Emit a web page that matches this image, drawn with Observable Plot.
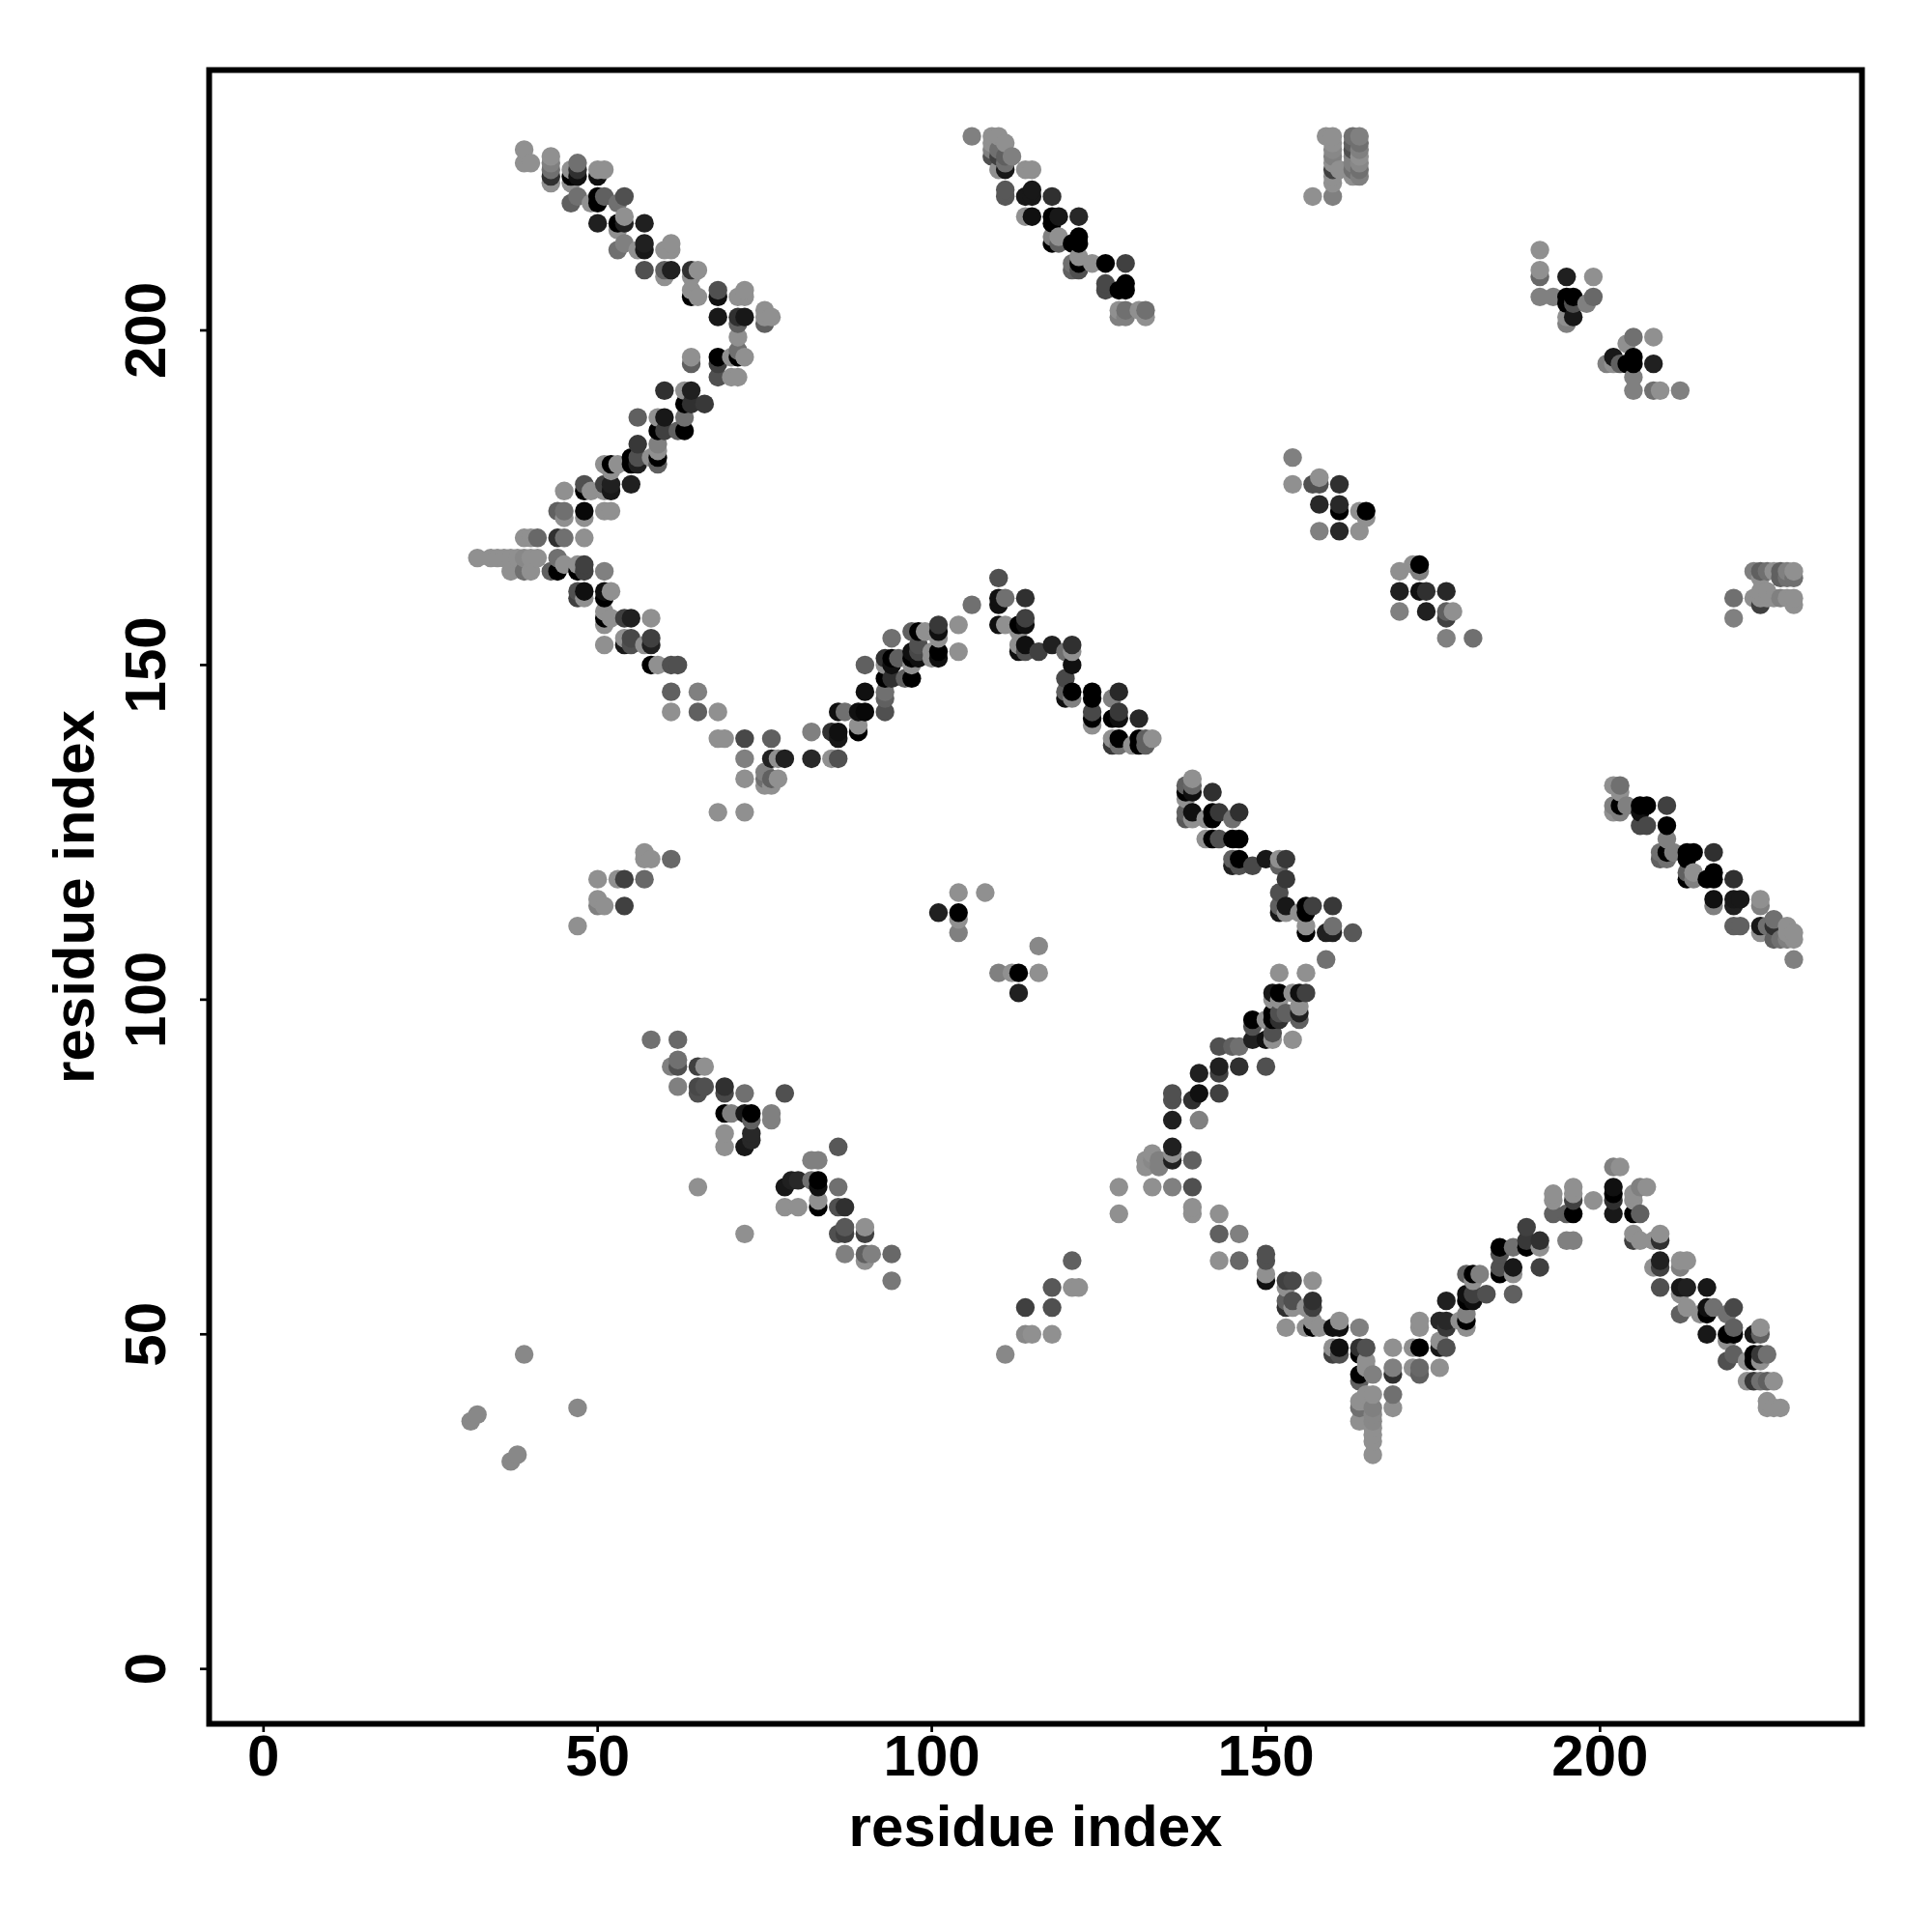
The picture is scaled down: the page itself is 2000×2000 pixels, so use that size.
<!DOCTYPE html>
<html><head><meta charset="utf-8">
<script src="https://cdn.jsdelivr.net/npm/d3@7"></script>
<script src="https://cdn.jsdelivr.net/npm/@observablehq/plot@0.6"></script>
<style>html,body{margin:0;padding:0;background:#fff}svg{display:block}</style>
</head><body><div id="chart"></div>
<script>
// each contact: [residue i, residue j, shade] (shade 0 = black ... 9 = lightest grey)
const armUpperLeft = [[39,227,9],[39,225,9],[40,225,9],[43,226,9],[43,224,7],[43,223,3],[43,222,9],[43,225,8],[46,224,9],[46,223,0],[46,222,9],[47,225,7],[47,224,3],[47,223,1],[50,224,9],[50,223,1],[51,224,9],[46,219,6],[47,220,7],[49,219,9],[50,220,0],[50,219,0],[51,220,6],[53,219,7],[54,220,5],[50,216,2],[53,215,9],[53,216,0],[54,216,2],[54,217,9],[57,216,2],[53,212,7],[54,213,8],[56,212,9],[57,213,2],[57,212,1.5],[60,212,9],[61,213,9],[61,212,9],[57,209,5],[60,209,6],[60,208,9],[61,209,2],[64,209,3],[65,209,9],[64,208,9],[64,206,9],[64,205,0],[65,205,9],[68,206,5],[68,205,1],[71,205,9],[72,206,9],[72,205,9],[68,202,1.5],[71,202,3],[72,202,1.5],[71,201,6],[75,203,9],[75,202,9],[75,201,6],[76,202,9],[71,199,9]];
const armRising = [[71,197,7],[72,196,9],[70,196,9],[71,196,0],[68,196,0],[68,195,4],[68,193,5],[70,193,9],[71,193,9],[64,196,9],[64,195,6],[60,191,3],[63,191,9],[64,191,2],[63,189,0],[64,189,3],[66,189,3.5],[56,187,6],[59,187,9],[60,187,1.5],[63,187,7],[59,185,0],[60,185,4],[62,185,6],[63,185,0],[56,183,3.5],[59,183,8],[59,182,9],[59,181,0],[59,180,6],[55,181,0],[55,180,0],[56,181,5],[56,180,2],[58,181,9],[51,180,9],[52,180,0],[53,180,9],[52,179,9],[55,177,2],[52,177,2],[52,176,1.5],[51,177,4],[51,176,9],[45,176,9],[48,177,5],[48,176,0],[49,176,9],[44,173,6],[45,173,7],[45,172,9],[48,173,0.5],[48,172,9],[51,173,9],[52,173,9],[39,169,9],[40,169,9],[41,169,6.5],[44,169,3],[45,169,7],[48,169,9]];
const armFalling = [[32,166,9],[34,166,9],[35,166,9],[36,166,9],[37,166,9],[38,166,9],[39,166,8.5],[40,166,9],[41,166,9],[37,164,9],[39,164,7],[40,164,9],[44,166,7],[45,165,9],[43,164,6],[44,164,0],[47,165,9],[48,165,4],[47,164,0],[48,164,4],[51,164,8],[47,161,5],[47,160,4],[48,161,1],[48,160,9],[51,161,1],[51,160,0],[52,161,9],[51,158,9],[52,157,9],[51,157,0],[51,156,9],[54,157,4],[55,157,2],[58,157,9],[51,153,9],[54,154,9],[54,153,1.5],[55,154,4.5],[55,153,5],[57,153,9],[58,154,4],[58,153,2],[58,150,0],[59,150,9],[61,150,5],[62,150,5],[61,146,6],[65,146,8],[61,143,9],[65,143,6],[68,143,9],[68,139,9],[69,139,9],[72,139,4.5],[76,139,6],[72,136,8],[76,136,2],[77,136,9],[78,136,2],[72,133,9],[75,134,8],[75,133,7],[75,132,9],[76,133,6],[76,132,9],[77,133,9],[68,128,9],[72,128,9]];
const patchLeft = [[57,122,9],[57,121,9],[58,121,9],[61,121,6.5],[47,111,9],[50,118,9],[50,115,9],[50,114,8],[51,114,9],[53,118,9],[54,118,4],[54,114,4],[57,118,6.5]];
const patchCentre = [[104,116,9],[108,116,9],[101,113,2],[104,113,0],[104,112,9],[104,110,8],[110,104,8],[112,104,9],[113,104,0],[113,101,2],[116,108,8.5],[116,104,9]];
const stripLowerLeft = [[58,94,7],[62,94,6.5],[62,91,7],[61,90,8],[62,90,5],[65,90,4],[66,90,9],[62,87,8],[65,87,4.5],[65,86,5],[66,87,5],[69,87,3],[69,86,4.5],[72,86,7],[78,86,5],[69,83,0],[70,83,8],[72,83,1.5],[73,83,0],[73,82,6],[76,83,8],[76,82,8],[69,80,9],[69,78,9],[73,80,2.5],[73,79,2.5],[72,78,1.5],[86,78,5.5],[82,76,8],[83,76,8],[78,72,1.5],[79,73,2],[80,73,2.5],[82,73,7],[83,73,0],[83,72,1],[86,72,7],[78,69,9],[80,69,9],[83,70,9],[83,69,0],[86,69,5],[87,69,3],[86,65,5],[87,66,5.5],[87,65,4],[90,66,9],[90,65,4],[87,62,8],[90,62,6],[91,62,8],[90,61,9],[94,62,6.5],[94,58,7.5],[65,72,9],[72,65,9]];
const isolatedLow = [[31,37,8.5],[32,38,8.5],[39,47,8.5],[47,39,8.5],[37,31,8.5],[38,32,8.5]];
const patchLowerMid = [[111,47,8.5],[114,54,4],[114,50,8.5],[115,50,9],[118,50,9],[118,54,5],[118,57,5.5],[121,61,6],[121,57,9],[122,57,9],[128,72,9],[128,68,9]];
const bumpUpper = [[82,140,8],[85,140,3],[86,140,1],[86,139,1.5],[82,136,2.5],[85,136,9],[86,136,5],[86,143,1],[87,143,7],[89,143,1],[90,143,0.5],[89,141,9],[89,140,0],[90,146,1],[90,150,6],[93,143,5],[93,145,6],[93,146,7],[93,148,0],[94,154,7],[93,151,3],[93,150,9],[94,151,0],[94,150,1],[95,151,6],[94,148,3],[96,148,6],[97,148,0],[97,150,9],[97,151,0],[97,152,1],[98,152,4.5],[98,153,5],[98,151,1],[97,155,6],[98,155,0],[99,155,9],[100,152,9],[100,151,9],[101,152,0],[101,151,1],[101,154,9],[101,155,1],[101,156,3.5],[104,156,9],[104,152,9],[106,159,7],[110,163,5],[110,160,1],[110,159,1],[111,160,7],[114,160,3],[110,156,1],[111,156,9],[113,156,0],[114,157,4],[114,156,1],[113,155,9],[113,153,9],[113,152,1],[114,153,1],[114,152,5],[116,152,4],[118,153,2],[120,152,7],[121,153,3],[121,152,9],[121,150,1],[120,148,4.5],[120,146,6],[120,145,1],[121,146,0],[121,145,8],[124,146,0],[124,145,0],[124,143,4.5],[124,142,0],[124,141,9],[127,145,8],[128,146,2.5],[128,143,3.5],[127,142,0],[128,142,1],[131,142,2.5],[127,139,9],[127,138,3.5],[128,139,0],[128,138,7],[130,138,9],[131,139,0],[131,138,0],[132,139,6],[132,138,6],[133,139,9]];
const diagMiddle = [[139,133,9],[138,132,6],[138,131,0],[139,131,1],[139,132,6.5],[138,130,9],[142,131,3],[138,128,6],[138,127,5.5],[139,128,1],[139,127,9],[142,128,0],[142,127,0],[143,128,3.5],[141,127,9],[145,127,7],[146,128,3],[141,124,9],[142,124,0],[143,124,5],[145,124,0],[146,124,0],[145,121,6],[145,120,2],[146,121,0],[146,120,5],[148,120,4.5],[150,121,1.5],[152,121,9],[152,120,6],[153,121,3.5],[153,118,3.5],[152,116,5],[152,114,6],[152,113,1.5],[153,114,1.5],[153,113,9],[155,113,9],[156,114,0],[156,113,0],[157,114,4],[160,114,3.5],[156,111,9],[156,110,0],[159,110,2],[160,110,2],[160,111,7],[163,110,5.5],[159,106,7]];
const armReturn = [[152,104,9],[156,104,9],[151,101,1.5],[152,101,0],[154,101,9],[155,101,1],[156,101,4],[151,100,9],[152,100,9],[155,99,9],[155,98,2],[155,97,6],[151,98,0],[151,97,0],[152,98,5],[152,97,3],[153,98,6],[150,97,9],[148,97,0],[148,96,5],[154,94,9],[151,95,5],[151,94,9],[150,94,1],[148,94,2],[145,93,6],[143,93,5],[146,93,7],[146,90,3],[143,90,2],[150,90,5],[143,89,4],[140,89,2],[140,86,1],[143,86,4],[136,86,5],[136,85,5],[139,85,3],[136,82,2],[140,82,8]];
const valleyLower = [[136,78,2],[136,77,9],[136,76,2],[139,76,6],[133,77,9],[132,76,9],[132,75,9],[133,76,8.5],[134,76,8],[134,75,8],[133,72,9],[136,72,8],[139,72,5],[139,69,9],[139,68,9],[143,68,9],[143,65,6],[146,65,8],[143,61,9],[146,61,6.5],[150,62,5],[150,61,5],[150,59,9],[150,58,1],[153,58,4],[154,58,4.5],[157,58,9],[153,57,9],[153,55,6],[153,54,3],[154,55,5],[154,54,9],[156,54,9],[157,55,3],[157,54,4],[153,51,9],[156,51,9],[157,51,0],[158,51,9],[157,52,9],[160,51,1],[161,51,1],[161,52,9],[164,51,8],[160,48,9],[160,47,4],[161,48,1],[161,47,5],[164,48,3],[165,48,5],[164,47,0],[165,46,9],[164,44,0],[165,45,9],[166,44,8],[164,43,6],[169,48,9],[169,45,8],[169,44,3],[169,41,7],[169,39,9],[165,41,9],[166,41,9],[164,40,9],[164,39,7],[165,40,9],[166,39,8],[164,37,9],[166,38,8.5],[166,37,8.5],[166,36,9],[166,35,9],[166,34,9],[166,32,9]];
const peakLower = [[172,48,9],[173,48,0],[172,45,9],[173,45,6.5],[173,44,6],[176,45,9],[173,52,9],[173,51,9],[176,52,2.5],[177,52,2.5],[177,51,3.5],[176,49,9],[176,48,1.5],[177,48,5],[177,55,2],[180,56,1],[180,55,0],[181,56,4],[181,55,1],[180,53,8],[180,52,0],[180,51,9],[179,52,9],[180,59,6],[181,59,0],[182,59,8],[181,58,9],[183,56,5],[185,63,0],[185,62,5],[185,60,5],[185,59,0],[187,63,7],[187,60,1.5],[187,59,9],[187,56,6],[189,66,4],[189,64,3.5],[189,63,0],[191,64,3],[191,63,9],[191,60,4],[193,71,9],[193,70,9],[193,68,6],[195,68,6],[196,68,0],[196,72,9],[196,71,9],[196,70,4],[195,64,8],[196,64,8],[199,70,9],[202,70,3],[202,68,1.5],[205,68,0],[206,68,6],[205,70,9],[202,72,1],[202,71,0],[202,75,8],[203,75,9],[206,72,8],[207,72,9],[205,71,9]];
const slopeLower = [[205,65,9],[205,64,4],[206,64,9],[209,65,9],[209,64,3],[208,64,9],[209,61,2],[209,60,4],[208,60,9],[212,61,9],[213,61,9],[212,60,8],[209,57,5],[212,57,1.5],[213,57,2],[216,57,1.5],[212,56,9],[212,53,6],[213,54,9],[215,53,9],[216,54,1],[216,53,0],[217,54,7],[220,54,4.5],[219,53,7],[216,50,1.5],[219,50,0],[220,50,0],[220,51,6],[223,50,1.5],[224,51,9],[224,50,6],[219,49,9],[219,46,5],[220,47,6],[222,46,9],[223,47,0],[223,46,0],[224,47,3.5],[224,46,9],[225,47,7],[222,43,9],[223,43,3.5],[224,43,7],[225,43,6],[226,43,9],[225,40,9],[225,39,9],[226,39,9],[227,39,9]];
const diagTop = [[106,229,8],[109,229,9],[110,229,9],[109,228,9],[111,228,9],[109,227,8],[110,227,7],[109,226,5],[110,226,4],[111,226,6],[112,226,8],[110,224,9],[111,225,7],[111,224,1.5],[114,224,9],[115,224,9],[111,221,5.5],[111,220,5.5],[114,220,1.5],[115,221,1.5],[115,220,1.5],[118,220,3],[114,217,9],[115,217,1],[118,217,0],[118,216,0],[119,217,1.5],[122,217,2.5],[118,214,8],[119,214,9],[118,213,0],[119,213,6],[121,213,0],[122,214,0],[122,213,0],[121,210,7],[121,209,6],[122,211,9],[122,210,0],[122,209,5],[124,210,9],[126,210,0],[129,210,4],[126,207,4.5],[126,206,4.5],[128,206,0],[129,207,0],[129,206,0],[128,203,9],[128,202,8],[129,203,7],[129,202,8],[131,203,9],[132,203,7],[132,202,9]];
const columnsTop = [[159,229,9],[160,229,9],[163,229,7],[164,229,8],[160,228,9],[160,227,8.5],[160,226,8],[160,225,9],[160,224,4],[160,223,9],[160,222,9],[161,224,9],[163,228,6],[164,228,7],[163,227,5],[164,227,8],[163,226,8],[164,226,9],[163,225,8],[164,225,8.5],[163,224,7],[164,224,7],[163,223,9],[164,223,8],[157,220,9],[160,220,8]];
const patchUpperRight = [[191,212,9],[191,209,9],[191,208,6.5],[191,205,8],[193,205,8],[195,208,2],[195,205,0],[196,205,0],[195,204,0],[196,204,5],[199,208,9],[199,205,6.5],[198,204,8],[196,202,1.5],[195,202,9],[195,201,8],[205,199,7],[204,198,9],[208,199,9],[201,195,8],[202,196,1.5],[202,195,9],[203,195,6],[204,195,0],[205,196,0],[205,195,0],[208,195,2],[205,193,8],[205,191,8],[208,191,7],[209,191,9],[212,191,8]];
const patchMidUpper = [[154,181,8],[154,177,9],[157,177,5],[158,177,5],[158,178,9],[161,177,3],[158,174,2.5],[161,174,2.5],[161,173,0],[164,173,9],[165,173,0],[165,172,9],[158,170,8],[161,170,2.5],[164,170,9],[170,164,9],[172,165,9],[173,165,0],[173,164,8],[170,161,2],[173,161,1],[174,161,3],[177,161,2.5],[170,158,8],[174,158,2],[177,158,6],[178,158,9],[177,157,4],[177,154,8],[181,154,7]];
const patchFarRight = [[220,160,7],[220,157,8],[223,164,8],[224,164,6],[225,164,7],[226,164,9],[227,164,6],[228,164,8],[229,164,9],[224,163,9],[227,163,6],[228,163,7],[229,163,7],[223,160,9],[224,161,9],[224,160,9],[225,161,9],[225,160,9],[226,160,9],[227,160,8],[228,160,9],[229,160,9],[229,159,9],[224,159,4]];
const diagLowerRight = [[202,132,9],[203,132,7],[203,131,9],[202,129,8],[202,128,9],[203,129,0],[203,128,8],[204,129,8],[206,129,0],[207,129,0],[206,128,1],[210,129,4],[206,126,4.5],[207,126,4.5],[210,126,0],[210,124,8],[209,122,7],[209,121,6],[210,122,0],[210,121,7],[211,122,8],[213,122,0],[214,122,0],[213,121,0],[217,122,3],[213,119,6],[213,118,0],[214,119,9],[214,118,8],[216,118,0],[217,119,0],[217,118,0],[220,118,3],[217,115,1],[217,114,8],[220,115,1.5],[221,115,1.5],[220,114,2],[220,111,6],[221,111,6],[224,115,9],[224,114,8],[224,111,1.5],[224,110,9],[225,111,7],[226,112,7],[226,111,3],[226,109,6],[228,111,9],[228,110,9],[229,110,9],[228,109,8],[229,109,9],[227,109,7],[229,106,8]];

const xTicks = [0, 50, 100, 150, 200];
const yTicks = [0, 50, 100, 150, 200];
const axisTitle = "residue index";

const groups = [armUpperLeft, armRising, armFalling, patchLeft, patchCentre, stripLowerLeft, isolatedLow, patchLowerMid, bumpUpper, diagMiddle, armReturn, valleyLower, peakLower, slopeLower, diagTop, columnsTop, patchUpperRight, patchMidUpper, patchFarRight, diagLowerRight];
const contacts = d3.sort(groups.flat().map(([i, j, shade]) => ({i, j, shade})), d => d.i, d => d.j);

const font = "'Liberation Sans', Arial, sans-serif";
const chart = Plot.plot({
  width: 2000, height: 2000,
  marginLeft: 216, marginRight: 73, marginTop: 72, marginBottom: 216,
  style: {background: "#fff", fontFamily: font},
  x: {domain: [-8.14, 239.2]},
  y: {domain: [-8.2, 238.9]},
  color: {type: "linear", domain: [0, 9], range: ["#000000", "#909090"]},
  marks: [
    Plot.dot(contacts, {x: "i", y: "j", r: 9.7, fill: "shade", stroke: null}),
    Plot.frame({stroke: "#000", strokeWidth: 6}),
    Plot.axisX({ticks: xTicks, tickSize: 9, strokeWidth: 2.7, tickPadding: 2, fontSize: 60, fontWeight: "bold", fill: "#000",
      label: axisTitle, labelAnchor: "center", labelArrow: "none", labelOffset: 126, tickFormat: d => String(d)}),
    Plot.axisY({ticks: yTicks, tickSize: 9, strokeWidth: 2.7, tickPadding: 37, fontSize: 60, fontWeight: "bold", fill: "#000", tickRotate: -90,
      label: axisTitle, labelAnchor: "center", labelArrow: "none", labelOffset: 162, tickFormat: d => String(d)})
  ]
});
document.getElementById("chart").append(chart);
</script></body></html>
